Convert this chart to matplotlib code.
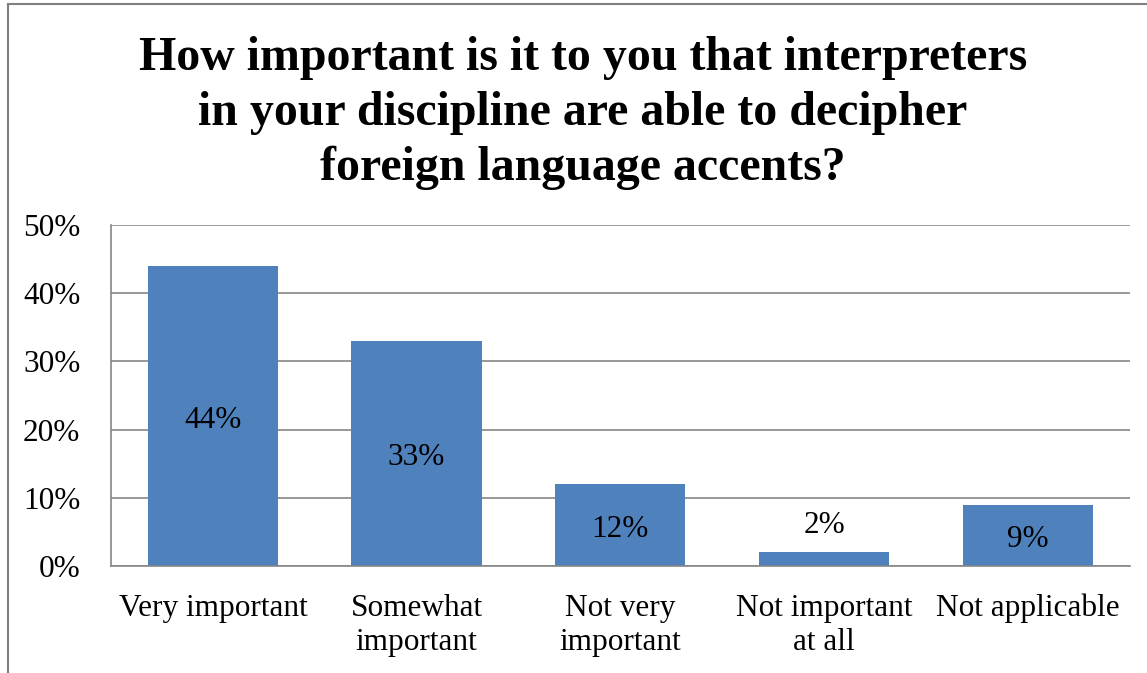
import matplotlib
matplotlib.use('Agg')
import matplotlib.pyplot as plt
from matplotlib.lines import Line2D
from matplotlib.ticker import PercentFormatter

categories = ['Very important', 'Somewhat\nimportant', 'Not very\nimportant',
              'Not important\nat all', 'Not applicable']
shares = [44, 33, 12, 2, 9]
y_ticks = [0, 10, 20, 30, 40, 50]

title = ('How important is it to you that interpreters\n'
         'in your discipline are able to decipher\n'
         'foreign language accents?')

plt.rcParams['font.family'] = ['Liberation Serif', 'DejaVu Serif']

fig = plt.figure(figsize=(11.47, 6.73), dpi=100)
ax = fig.add_axes([0.0968, 0.159, 0.888, 0.5067])

bar_color = '#4F81BD'
grid_color = '#868686'
label_size = 22.5

x = range(len(categories))
bars = ax.bar(x, shares, width=0.64, color=bar_color, zorder=2)

# подписи значений: внутри столбца по центру, для низкого столбца - над ним
for rect, v in zip(bars, shares):
    cx = rect.get_x() + rect.get_width() / 2
    if v < 5:
        ax.annotate(f'{v}%', (cx, v), xytext=(0, 9), textcoords='offset points',
                    ha='center', va='bottom', fontsize=label_size, color='black')
    else:
        ax.annotate(f'{v}%', (cx, v / 2), xytext=(0, -3), textcoords='offset points',
                    ha='center', va='center', fontsize=label_size, color='black')

ax.set_xlim(-0.5, len(categories) - 0.5)
ax.set_ylim(0, 50)
ax.set_yticks(y_ticks)
ax.yaxis.set_major_formatter(PercentFormatter(decimals=0))
ax.set_xticks(list(x))
ax.set_xticklabels(categories, fontsize=label_size, linespacing=1.22)
ax.tick_params(axis='y', length=0, pad=22, labelsize=label_size)
ax.tick_params(axis='x', length=0, pad=20)

ax.grid(axis='y', color=grid_color, linewidth=1.2, zorder=0)
ax.set_axisbelow(True)
for side in ['top', 'right']:
    ax.spines[side].set_visible(False)
for side in ['left', 'bottom']:
    ax.spines[side].set_color(grid_color)
    ax.spines[side].set_linewidth(1.2)

fig.text(583 / 1147, 1 - 113 / 673, title, ha='center', va='center',
         fontsize=34.5, fontweight='bold', linespacing=1.31)

# рамка области диаграммы (видны только левый и верхний края)
fig.add_artist(Line2D([8 / 1147, 8 / 1147], [0, 1 - 4 / 673], transform=fig.transFigure,
                      color='#808080', linewidth=1.5))
fig.add_artist(Line2D([8 / 1147, 1], [1 - 4 / 673, 1 - 4 / 673], transform=fig.transFigure,
                      color='#808080', linewidth=1.5))

fig.savefig('out.png', dpi=100)
